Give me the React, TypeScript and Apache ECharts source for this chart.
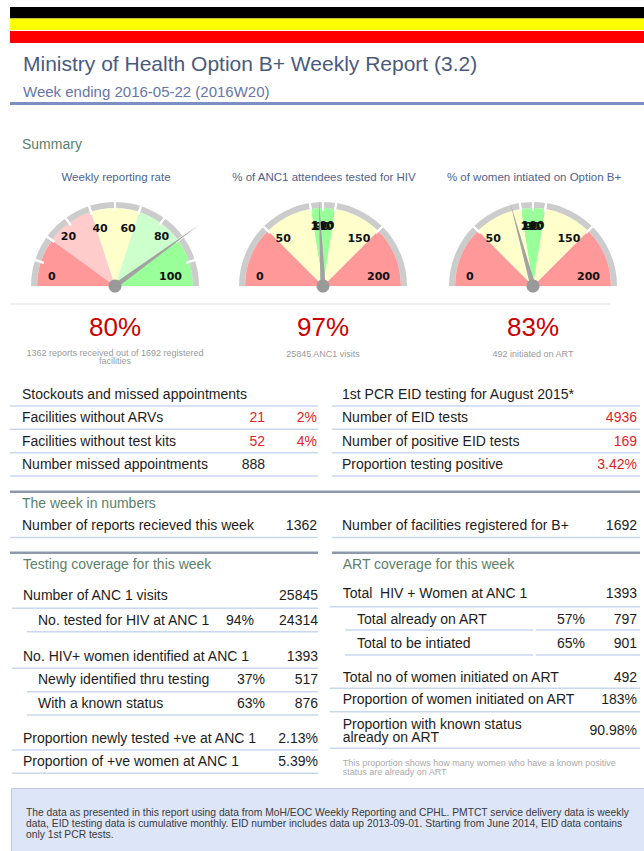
import React, { useEffect, useRef } from 'react';
import * as echarts from 'echarts';

// ---------------- data ----------------
const reportTitle = 'Ministry of Health Option B+ Weekly Report (3.2)';
const reportSubtitle = 'Week ending 2016-05-22 (2016W20)';
const summaryTitle = 'Summary';

const gaugeTitles = ['Weekly reporting rate', '% of ANC1 attendees tested for HIV', '% of women intiated on Option B+'];
const gaugeValues = [80, 97, 83];
const gaugeMax = [100, 200, 200];
const gaugeBandLimits = [
  [20, 40, 60, 80, 100],
  [50, 90, 110, 150, 200],
  [50, 90, 110, 150, 200],
];
const gaugeTickLabels = [
  [0, 20, 40, 60, 80, 100],
  [0, 50, 90, 100, 110, 150, 200],
  [0, 50, 90, 100, 110, 150, 200],
];
const gaugeRimGaps = [
  [10, 20, 30, 40, 50, 60, 70, 80, 90],
  [50, 90, 100, 110, 150],
  [50, 90, 100, 110, 150],
];
const gaugeCaptions = ['1362 reports received out of 1692 registered\nfacilities', '25845 ANC1 visits', '492 initiated on ART'];

const stockTitle = 'Stockouts and missed appointments';
const stockLabels = ['Facilities without ARVs', 'Facilities without test kits', 'Number missed appointments'];
const stockCounts = ['21', '52', '888'];
const stockPcts = ['2%', '4%', ''];
const stockAlert = [true, true, false];

const eidTitle = '1st PCR EID testing for August 2015*';
const eidLabels = ['Number of EID tests', 'Number of positive EID tests', 'Proportion testing positive'];
const eidValues = ['4936', '169', '3.42%'];

const weekTitle = 'The week in numbers';
const weekLabels = ['Number of reports recieved this week', 'Number of facilities registered for B+'];
const weekValues = ['1362', '1692'];

const testingTitle = 'Testing coverage for this week';
const testingLabels = [
  'Number of ANC 1 visits',
  'No. tested for HIV at ANC 1',
  'No. HIV+ women identified at ANC 1',
  'Newly identified thru testing',
  'With a known status',
  'Proportion newly tested +ve at ANC 1',
  'Proportion of +ve women at ANC 1',
];
const testingPcts = ['', '94%', '', '37%', '63%', '', ''];
const testingValues = ['25845', '24314', '1393', '517', '876', '2.13%', '5.39%'];

const artTitle = 'ART coverage for this week';
const artLabels = [
  'Total  HIV + Women at ANC 1',
  'Total already on ART',
  'Total to be intiated',
  'Total no of women initiated on ART',
  'Proportion of women initiated on ART',
  'Proportion with known status\nalready on ART',
];
const artPcts = ['', '57%', '65%', '', '', ''];
const artValues = ['1393', '797', '901', '492', '183%', '90.98%'];
const artNote = 'This proportion shows how many women who have a known positive\nstatus are already on ART';

const footerText =
  'The data as presented in this report using data from MoH/EOC Weekly Reporting and CPHL. PMTCT service delivery data is weekly\n' +
  'data, EID testing data is cumulative monthly. EID number includes data up 2013-09-01. Starting from June 2014, EID data contains\n' +
  'only 1st PCR tests.';

// ---------------- layout & style ----------------
const W = 644;
const H = 851;
const FONT = '"Liberation Sans", Arial, Helvetica, sans-serif';
const BAND_COLORS = [
  ['#ff9999', '#ffcccc', '#ffffcc', '#ccffcc', '#99ff99'],
  ['#ff9999', '#ffffcc', '#99ff99', '#ffffcc', '#ff9999'],
  ['#ff9999', '#ffffcc', '#99ff99', '#ffffcc', '#ff9999'],
];
// labels lifted half a line above their anchor
const RAISED_LABELS = [
  [0, 20, 80, 100],
  [0, 200],
  [0, 200],
];
// horizontal nudge (px) for centred labels near the top
const LABEL_NUDGE: Record<number, number>[] = [
  { 40: 6, 60: -8 },
  { 90: 9, 110: -11 },
  { 90: 9, 110: -11 },
];
const SPACE_W = 3.83;
const GAUGE_CX = [115, 323, 533];
const GAUGE_CY = 286;
const SECTOR_R = 78;
const RIM_R = 84;
const RIM_W = 6;
const LABEL_R = 67;
const POINTER_LEN = [104, 87, 87];

const TEXT = '#1c1c1c';
const RED = '#e31e24';
const SECTION = '#5c8069';
const THIN = '#c9d7ef';
const THICK = '#8d99aa';

function txt(text: string, x: number, y: number, size: number, fill: string, align = 'left', extra: any = {}) {
  return {
    type: 'text',
    x,
    y,
    silent: true,
    style: {
      text,
      fill,
      font: `${extra.weight || 'normal'} ${size}px ${FONT}`,
      textAlign: align,
      align,
      textVerticalAlign: 'middle',
      verticalAlign: 'middle',
      lineHeight: extra.lineHeight,
    },
  };
}
function hline(x1: number, x2: number, y: number, stroke: string, w: number) {
  return { type: 'line', silent: true, shape: { x1, y1: y, x2, y2: y }, style: { stroke, lineWidth: w } };
}
function rect(x: number, y: number, w: number, h: number, fill: string, stroke?: string) {
  return { type: 'rect', silent: true, shape: { x, y, width: w, height: h }, style: { fill, stroke: stroke || 'none', lineWidth: 1 } };
}

function nudgeLabel(i: number, v: number) {
  const n = LABEL_NUDGE[i][v] || 0;
  const pad = ' '.repeat(Math.round((Math.abs(n) * 2) / SPACE_W));
  return n > 0 ? pad + String(v) : String(v) + pad;
}

function gaugeSeries(i: number) {
  const max = gaugeMax[i];
  const center = [GAUGE_CX[i], GAUGE_CY];
  const common: any = {
    type: 'gauge',
    center,
    startAngle: 180,
    endAngle: 0,
    min: 0,
    max,
    silent: true,
    axisTick: { show: false },
    splitLine: { show: false },
    axisLabel: { show: false },
    pointer: { show: false },
    anchor: { show: false },
    title: { show: false },
    detail: { show: false },
    progress: { show: false },
    data: [{ value: gaugeValues[i] }],
  };
  const out: any[] = [];
  out.push({
    ...common,
    z: 2,
    radius: SECTOR_R,
    axisLine: {
      lineStyle: { width: SECTOR_R, color: gaugeBandLimits[i].map((l, k) => [l / max, BAND_COLORS[i][k]]) },
    },
  });
  out.push({
    ...common,
    z: 3,
    radius: RIM_R,
    axisLine: { lineStyle: { width: RIM_W, color: [[1, '#cccccc']] } },
  });
  gaugeRimGaps[i].forEach((g) => {
    const a = 180 - (g / max) * 180;
    out.push({
      ...common,
      z: 4,
      radius: RIM_R,
      startAngle: a,
      endAngle: a,
      min: 0,
      max: 1,
      splitNumber: 1,
      axisLine: { show: false, lineStyle: { width: RIM_W } },
      splitLine: { show: true, distance: -RIM_W, length: RIM_W + 3, lineStyle: { color: '#ffffff', width: 2 } },
    });
  });
  const labelStyle = { color: '#111', fontSize: 11, fontWeight: 'bold', fontFamily: '"DejaVu Sans", Verdana, sans-serif' };
  const raised = gaugeTickLabels[i].filter((v) => RAISED_LABELS[i].includes(v));
  const flat = gaugeTickLabels[i].filter((v) => !RAISED_LABELS[i].includes(v));
  [
    { list: raised, up: true },
    { list: flat, up: false },
  ].forEach((grp) => {
    out.push({
      ...common,
      z: 5,
      radius: LABEL_R,
      splitNumber: max / 10,
      axisLine: { show: false, lineStyle: { width: 0 } },
      splitLine: { show: false, length: 0, distance: 0 },
      axisLabel: {
        show: true,
        distance: 0,
        lineHeight: grp.up ? 20 : 13,
        ...labelStyle,
        formatter: (v: number) => {
          const r = Math.round(v);
          if (!grp.list.includes(r)) return '';
          return grp.up ? String(r) + '\n' : nudgeLabel(i, r);
        },
      },
    });
  });
  out.push({
    ...common,
    z: 6,
    radius: RIM_R,
    axisLine: { show: false, lineStyle: { width: 0 } },
    pointer: { show: true, length: POINTER_LEN[i], width: 2.6, itemStyle: { color: '#a2a2a2' } },
    itemStyle: { color: '#a2a2a2' },
    anchor: { show: true, size: 13, showAbove: true, itemStyle: { color: '#999999' } },
  });
  return out;
}

function buildOption() {
  const g: any[] = [];
  // header bars
  g.push(rect(10, 7, W - 10, 11.5, '#000000'));
  g.push(rect(10, 18.5, W - 10, 11.5, '#ffff00'));
  g.push(rect(10, 31, W - 10, 12, '#ff0000'));
  g.push(txt(reportTitle, 23, 63, 21, '#4a5a7e'));
  g.push(txt(reportSubtitle, 23, 91.5, 15, '#6676aa'));
  g.push(hline(10, W, 103.5, '#7d8ec2', 3));

  // summary
  g.push(txt(summaryTitle, 22, 144, 14, SECTION));
  gaugeTitles.forEach((t, i) => {
    g.push(txt(t, GAUGE_CX[i] + 1, 177, 11.5, '#4f5f8f', 'center'));
    g.push(txt(`${gaugeValues[i]}%`, GAUGE_CX[i], 326.5, 26, '#cc0000', 'center'));
    const two = gaugeCaptions[i].includes('\n');
    g.push(txt(gaugeCaptions[i], GAUGE_CX[i], two ? 356.7 : 354.3, 9, '#9a9a9a', 'center', { lineHeight: 8 }));
  });
  g.push(hline(10, 610, 304, '#dddddd', 1));

  // stockouts
  const stockY = [416.7, 441, 464];
  const stockLines = [406, 429.3, 452.7, 476];
  g.push(txt(stockTitle, 22, 394, 14, TEXT));
  stockLines.forEach((y) => g.push(hline(10, 318, y, THIN, 1.5)));
  stockLabels.forEach((l, k) => {
    g.push(txt(l, 22, stockY[k], 14, TEXT));
    g.push(txt(stockCounts[k], 265, stockY[k], 14, stockAlert[k] ? RED : TEXT, 'right'));
    if (stockPcts[k]) g.push(txt(stockPcts[k], 317, stockY[k], 14, stockAlert[k] ? RED : TEXT, 'right'));
  });

  // EID
  g.push(txt(eidTitle, 342, 394, 14, TEXT));
  stockLines.forEach((y) => g.push(hline(332, 640, y, THIN, 1.5)));
  eidLabels.forEach((l, k) => {
    g.push(txt(l, 342, stockY[k], 14, TEXT));
    g.push(txt(eidValues[k], 637, stockY[k], 14, RED, 'right'));
  });

  // week in numbers
  g.push(hline(10, 640, 491.7, THICK, 2.5));
  g.push(txt(weekTitle, 22, 502.7, 14, SECTION));
  g.push(txt(weekLabels[0], 22, 525, 14, TEXT));
  g.push(txt(weekValues[0], 317, 525, 14, TEXT, 'right'));
  g.push(txt(weekLabels[1], 342, 525, 14, TEXT));
  g.push(txt(weekValues[1], 637, 525, 14, TEXT, 'right'));
  g.push(hline(10, 318, 537.5, THIN, 1.5));
  g.push(hline(332, 640, 537.5, THIN, 1.5));
  g.push(hline(10, 318, 552.7, THICK, 2.5));
  g.push(hline(332, 640, 552.7, THICK, 2.5));

  // testing coverage
  const tY = [595, 620, 656, 679, 702.7, 737.7, 761];
  const tIndent = [0, 1, 0, 1, 1, 0, 0];
  const tPctX = [0, 254, 0, 265, 265, 0, 0];
  const tLineY = [608.3, 631.7, 668.3, 691.7, 715, 750, 773.3];
  g.push(txt(testingTitle, 23, 564, 14, SECTION));
  testingLabels.forEach((l, k) => {
    g.push(txt(l, tIndent[k] ? 38 : 23, tY[k], 14, TEXT));
    if (testingPcts[k]) g.push(txt(testingPcts[k], tPctX[k], tY[k], 14, TEXT, 'right'));
    g.push(txt(testingValues[k], 318, tY[k], 14, TEXT, 'right'));
    g.push(hline(tIndent[k] ? 27 : 12, 318, tLineY[k], THIN, 1.5));
  });

  // ART coverage
  const aY = [593.3, 619, 642.7, 676.7, 699.3, 730];
  const aIndent = [0, 1, 1, 0, 0, 0];
  const aLineY = [606.7, 630, 655, 688.3, 711.7, 748.3];
  g.push(txt(artTitle, 342.7, 564, 14, SECTION));
  artLabels.forEach((l, k) => {
    g.push(txt(l, aIndent[k] ? 357 : 342.7, aY[k], 14, TEXT, 'left', { lineHeight: 13 }));
    if (artPcts[k]) g.push(txt(artPcts[k], 585, aY[k], 14, TEXT, 'right'));
    g.push(txt(artValues[k], 637, aY[k], 14, TEXT, 'right'));
    if (aIndent[k]) {
      g.push(hline(345, 533, aLineY[k], THIN, 1.5));
      g.push(hline(536, 640, aLineY[k], THIN, 1.5));
    } else {
      g.push(hline(330, 640, aLineY[k], THIN, 1.5));
    }
  });
  g.push(txt(artNote, 342.7, 767.8, 9, '#aaaaaa', 'left', { lineHeight: 9 }));

  // footer
  g.push(rect(11.5, 788.5, W - 11, 70, '#dde5f8', '#c3c9d6'));
  g.push(txt(footerText, 26, 823, 10.3, '#3a3a3a', 'left', { lineHeight: 11 }));

  const series: any[] = [];
  for (let i = 0; i < 3; i++) series.push(...gaugeSeries(i));

  return {
    animation: false,
    backgroundColor: '#ffffff',
    textStyle: { fontFamily: FONT },
    graphic: { elements: g },
    series,
  };
}

export default function App() {
  const ref = useRef<HTMLDivElement>(null);
  useEffect(() => {
    const chart = echarts.init(ref.current as HTMLDivElement, undefined, { renderer: 'svg', width: W, height: H });
    chart.setOption(buildOption() as any);
    return () => chart.dispose();
  }, []);
  return <div ref={ref} style={{ position: 'absolute', left: 0, top: 0, width: W, height: H, background: '#fff' }} />;
}
